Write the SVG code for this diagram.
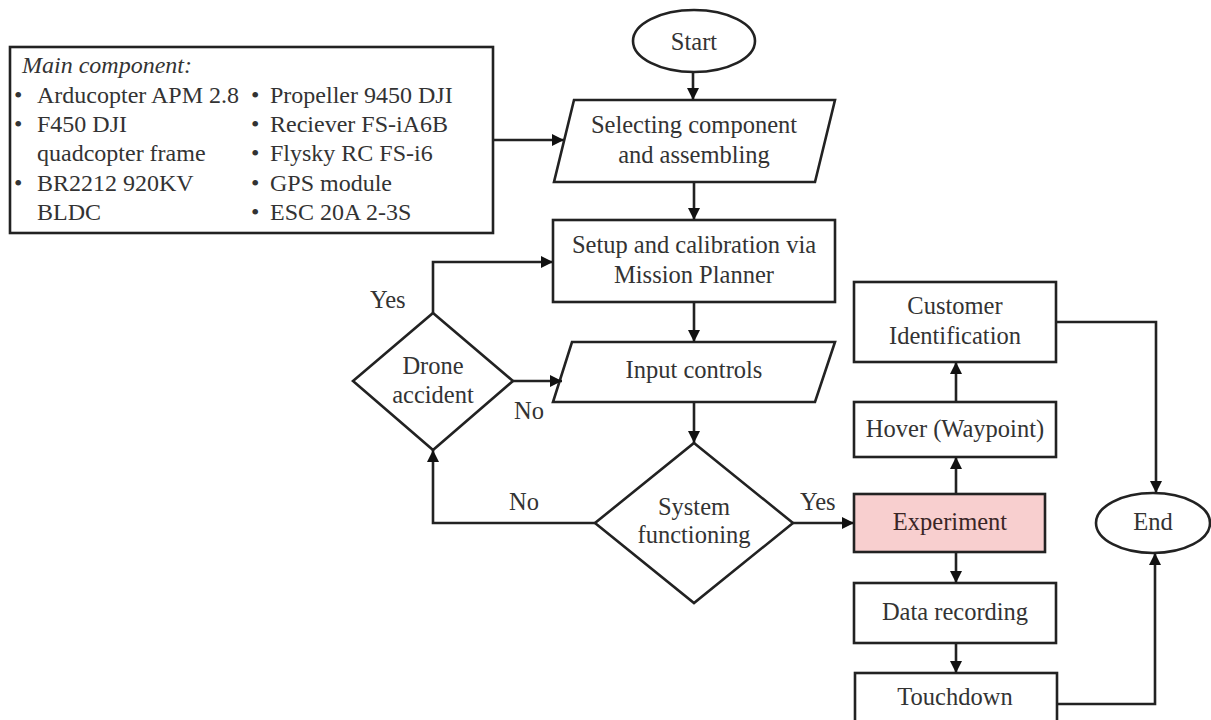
<svg xmlns="http://www.w3.org/2000/svg" width="1211" height="720" viewBox="0 0 1211 720">
<style>
.s{fill:#fff;stroke:#222;stroke-width:2.6}
.t{font-family:"Liberation Serif",serif;font-size:24.5px;fill:#333;text-anchor:middle}
.l{font-family:"Liberation Serif",serif;font-size:24px;fill:#333}
.y{font-family:"Liberation Serif",serif;font-size:24.5px;fill:#333}
.c{fill:none;stroke:#222;stroke-width:2.6}
</style>
<defs>
<marker id="a" viewBox="0 0 12 12" refX="12" refY="6" markerWidth="12" markerHeight="12" markerUnits="userSpaceOnUse" orient="auto"><path d="M0,0L12,6L0,12z" fill="#111"/></marker>
</defs>
<rect width="1211" height="720" fill="#fff"/>
<g id="components">
<rect class="s" x="10" y="47" width="483" height="186"/>
<text class="l" x="22" y="73" font-style="italic">Main component:</text>
<text class="l" y="103"><tspan x="14">•</tspan><tspan x="37">Arducopter APM 2.8</tspan></text>
<text class="l" y="132"><tspan x="14">•</tspan><tspan x="37">F450 DJI</tspan></text>
<text class="l" x="37" y="161">quadcopter frame</text>
<text class="l" y="191"><tspan x="14">•</tspan><tspan x="37">BR2212 920KV</tspan></text>
<text class="l" x="37" y="220">BLDC</text>
<text class="l" y="103"><tspan x="251">•</tspan><tspan x="270">Propeller 9450 DJI</tspan></text>
<text class="l" y="132"><tspan x="251">•</tspan><tspan x="270">Reciever FS-iA6B</tspan></text>
<text class="l" y="161"><tspan x="251">•</tspan><tspan x="270">Flysky RC FS-i6</tspan></text>
<text class="l" y="191"><tspan x="251">•</tspan><tspan x="270">GPS module</tspan></text>
<text class="l" y="220"><tspan x="251">•</tspan><tspan x="270">ESC 20A 2-3S</tspan></text>
</g>
<g id="start"><ellipse class="s" cx="694" cy="41" rx="61" ry="31"/><text class="t" x="694" y="50">Start</text></g>
<g id="select"><polygon class="s" points="574,100 835,100 815,182 554,182"/><text class="t" x="694" y="133">Selecting component</text><text class="t" x="694" y="163">and assembling</text></g>
<g id="setup"><rect class="s" x="553" y="220" width="282" height="82"/><text class="t" x="694" y="253">Setup and calibration via</text><text class="t" x="694" y="283">Mission Planner</text></g>
<g id="input"><polygon class="s" points="572,342 835,342 815,402 553,402"/><text class="t" x="694" y="378">Input controls</text></g>
<g id="accident"><polygon class="s" points="433,313 513,381 433,450 353,381"/><text class="t" x="433" y="374">Drone</text><text class="t" x="433" y="403">accident</text></g>
<g id="system"><polygon class="s" points="694,443 793,523 694,603 595,523"/><text class="t" x="694" y="515">System</text><text class="t" x="694" y="543">functioning</text></g>
<g id="customer"><rect class="s" x="854" y="282" width="202" height="80"/><text class="t" x="955" y="314">Customer</text><text class="t" x="955" y="344">Identification</text></g>
<g id="hover"><rect class="s" x="854" y="402" width="202" height="55"/><text class="t" x="955" y="437">Hover (Waypoint)</text></g>
<g id="experiment"><rect class="s" x="854" y="494" width="191" height="58" style="fill:#f8cfcf"/><text class="t" x="950" y="530" style="fill:#3a2626">Experiment</text></g>
<g id="data"><rect class="s" x="854" y="583" width="202" height="60"/><text class="t" x="955" y="620">Data recording</text></g>
<g id="touchdown"><rect class="s" x="855" y="673" width="202" height="60"/><text class="t" x="955" y="705">Touchdown</text></g>
<g id="end"><ellipse class="s" cx="1153" cy="523" rx="57" ry="30"/><text class="t" x="1153" y="530">End</text></g>
<g id="connectors">
<path class="c" marker-end="url(#a)" d="M693,72V100"/>
<path class="c" marker-end="url(#a)" d="M493,140H564"/>
<path class="c" marker-end="url(#a)" d="M694,182V220"/>
<path class="c" marker-end="url(#a)" d="M694,302V342"/>
<path class="c" marker-end="url(#a)" d="M433,313V262H553"/>
<path class="c" marker-end="url(#a)" d="M513,381H562"/>
<path class="c" marker-end="url(#a)" d="M694,402V443"/>
<path class="c" marker-end="url(#a)" d="M595,523H433V450"/>
<path class="c" marker-end="url(#a)" d="M793,523H854"/>
<path class="c" marker-end="url(#a)" d="M956,494V457"/>
<path class="c" marker-end="url(#a)" d="M956,402V362"/>
<path class="c" marker-end="url(#a)" d="M956,552V583"/>
<path class="c" marker-end="url(#a)" d="M956,643V673"/>
<path class="c" marker-end="url(#a)" d="M1056,322H1156V493"/>
<path class="c" marker-end="url(#a)" d="M1057,704H1155V553"/>
<text class="y" x="370" y="308">Yes</text>
<text class="y" x="514" y="419">No</text>
<text class="y" x="509" y="510">No</text>
<text class="y" x="800" y="510">Yes</text>
</g>
</svg>
